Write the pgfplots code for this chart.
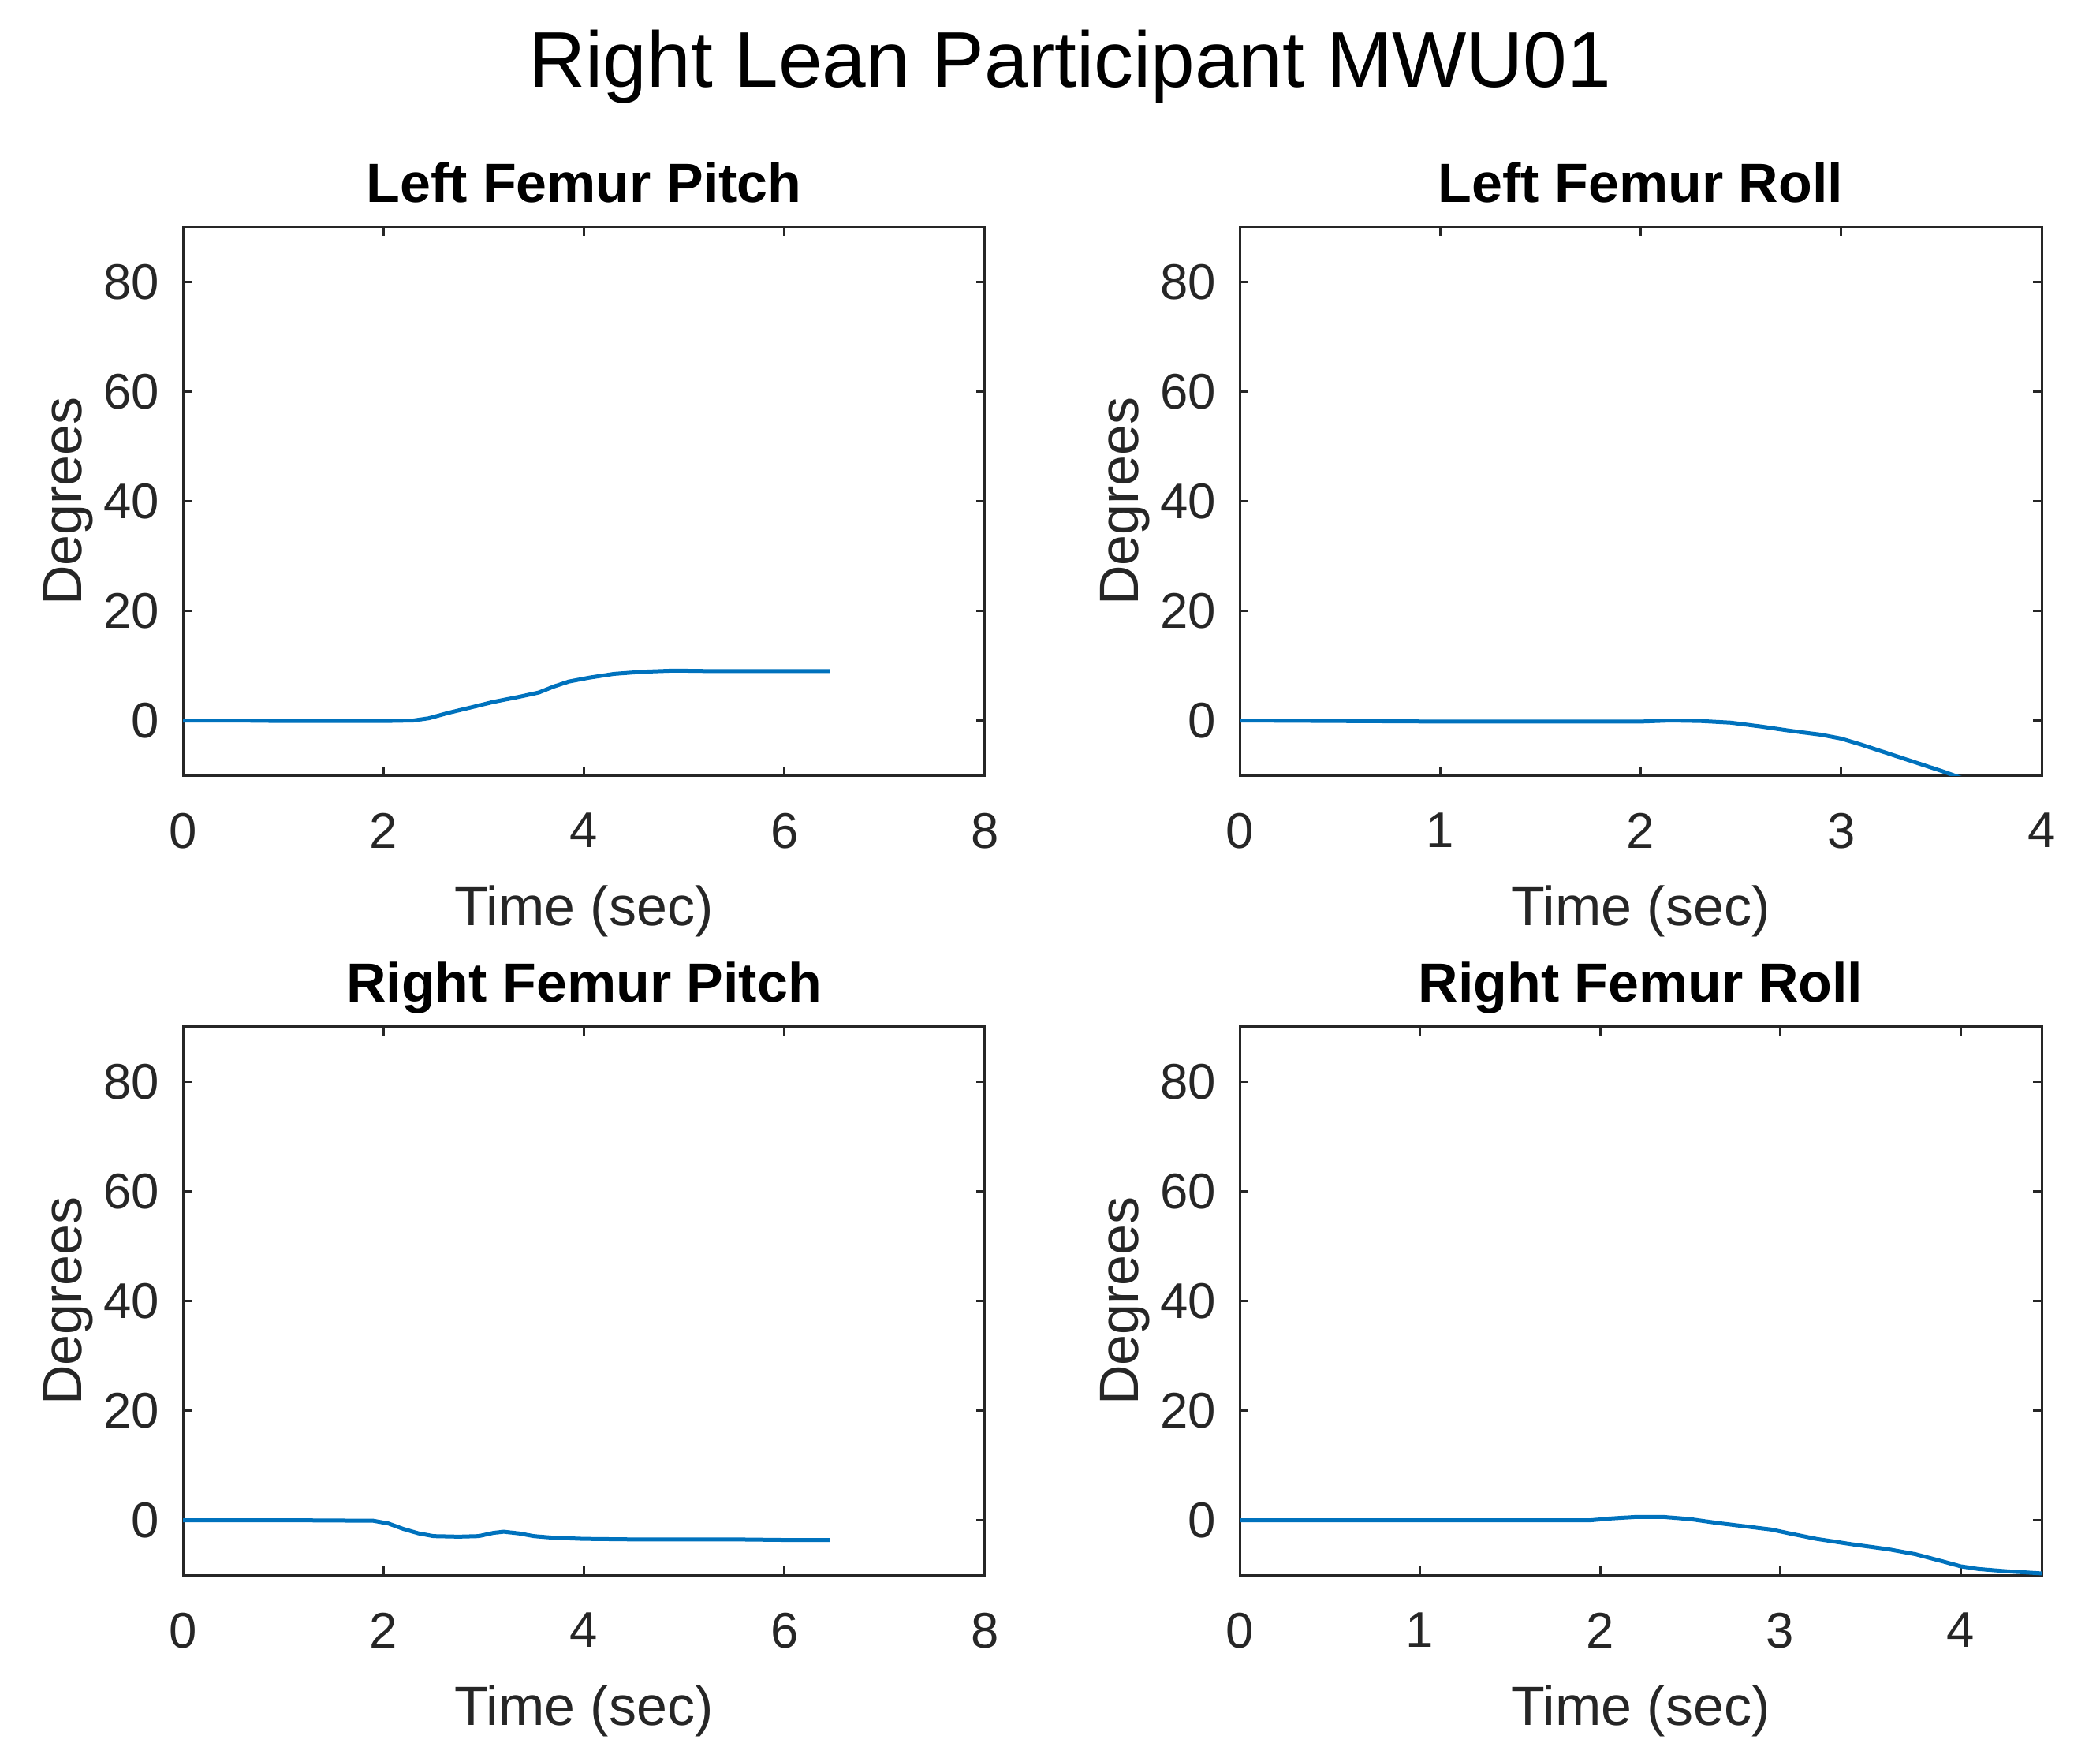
\documentclass[border=0pt]{standalone}
\usepackage{fontspec}
\setmainfont{Liberation Sans}
\usepackage{pgfplots}
\pgfplotsset{compat=1.18}
\definecolor{mblue}{RGB}{0,114,189}
\definecolor{tickgray}{RGB}{38,38,38}
\pgfplotsset{mystyle/.style={
  scale only axis, width=203.4pt, height=139pt,
  ymin=-10, ymax=90, ytick={0,20,40,60,80},
  tick align=inside, major tick length=2.2pt,
  axis line style={line width=0.6pt, draw=tickgray},
  every tick/.style={draw=tickgray, line width=0.6pt},
  /pgf/number format/assume math mode=true,
  tick label style={font=\fontsize{12.7}{14}\selectfont, text=tickgray},
  xticklabel style={anchor=north, inner sep=0pt, yshift=-9.4pt},
  yticklabel style={anchor=east, inner sep=0pt, xshift=-5.8pt},
  xlabel={Time (sec)}, ylabel={Degrees},
  label style={font=\fontsize{14}{16}\selectfont, text=tickgray},
  xlabel style={at={(axis description cs:0.5,-0.2734)}, anchor=base, inner sep=0pt},
  ylabel style={at={(axis description cs:-0.1268,0.5)}, anchor=base, inner sep=0pt, rotate=0},
  every axis title shift=0pt,
  title style={font=\fontsize{14}{16}\selectfont\bfseries, at={(axis description cs:0.5,1.0446)}, anchor=base, inner sep=0pt, yshift=0pt},
}}
\begin{document}
\begin{tikzpicture}
\useasboundingbox (0,0) rectangle (532.6pt,445.6pt);
\node[anchor=base, inner sep=0pt, font=\fontsize{20}{24}\selectfont] at (271.4pt,423.4pt) {Right Lean Participant MWU01};

\begin{axis}[mystyle, at={(46.4pt,249pt)}, anchor=south west,
  xmin=0, xmax=8, xtick={0,2,4,6,8}, title={Left Femur Pitch}]
\addplot[mblue, line width=1pt, no marks] coordinates {(0,0) (0.5,0) (1,-0.1) (1.5,-0.1) (2,-0.1) (2.3,0) (2.45,0.4) (2.65,1.4) (2.9,2.5) (3.1,3.4) (3.35,4.3) (3.55,5.1) (3.7,6.2) (3.85,7.1) (4.05,7.8) (4.3,8.5) (4.6,8.9) (4.9,9.1) (5.3,9.0) (5.8,9.0) (6.2,9.0) (6.45,9.0)};
\end{axis}

\begin{axis}[mystyle, at={(314.4pt,249pt)}, anchor=south west,
  xmin=0, xmax=4, xtick={0,1,2,3,4}, title={Left Femur Roll}]
\addplot[mblue, line width=1pt, no marks] coordinates {(0,0) (0.5,-0.1) (1,-0.2) (1.5,-0.2) (2.0,-0.2) (2.15,0) (2.3,-0.1) (2.45,-0.4) (2.6,-1.1) (2.75,-1.9) (2.9,-2.6) (3.0,-3.3) (3.1,-4.4) (3.2,-5.6) (3.3,-6.8) (3.4,-8.0) (3.5,-9.2) (3.6,-10.5) (3.7,-12)};
\end{axis}

\begin{axis}[mystyle, at={(46.4pt,46.2pt)}, anchor=south west,
  xmin=0, xmax=8, xtick={0,2,4,6,8}, title={Right Femur Pitch}]
\addplot[mblue, line width=1pt, no marks] coordinates {(0,0) (1,0) (1.9,-0.1) (2.05,-0.6) (2.2,-1.6) (2.35,-2.4) (2.5,-2.9) (2.75,-3.0) (2.95,-2.9) (3.1,-2.3) (3.2,-2.1) (3.35,-2.4) (3.5,-2.9) (3.7,-3.2) (4.0,-3.4) (4.5,-3.5) (5,-3.5) (5.5,-3.5) (6,-3.6) (6.45,-3.6)};
\end{axis}

\begin{axis}[mystyle, at={(314.4pt,46.2pt)}, anchor=south west,
  xmin=0, xmax=4.45, xtick={0,1,2,3,4}, title={Right Femur Roll}]
\addplot[mblue, line width=1pt, no marks] coordinates {(0,0) (0.5,0) (1,0) (1.5,0) (1.95,0) (2.05,0.3) (2.2,0.6) (2.35,0.6) (2.5,0.2) (2.65,-0.5) (2.8,-1.1) (2.95,-1.7) (3.05,-2.4) (3.2,-3.4) (3.4,-4.4) (3.6,-5.3) (3.75,-6.2) (3.9,-7.5) (4.0,-8.4) (4.1,-8.9) (4.25,-9.3) (4.45,-9.7)};
\end{axis}
\end{tikzpicture}
\end{document}
